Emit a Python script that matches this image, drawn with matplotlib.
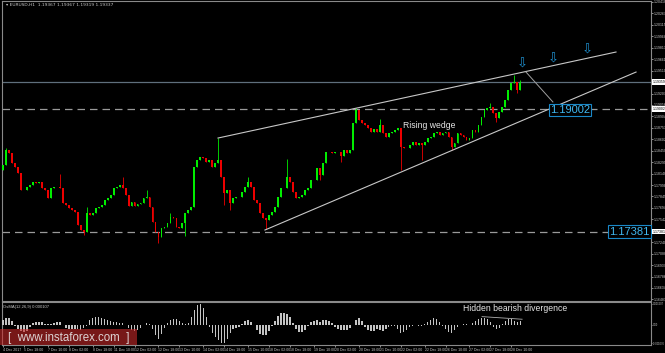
import matplotlib
matplotlib.use('Agg')
import matplotlib.pyplot as plt
import matplotlib.transforms as mtrans
from matplotlib.patches import Rectangle
import numpy as np

# ---------------- data ----------------
first_open = 1.18195
closes = [
    1.18261, 1.18460, 1.18420, 1.18288, 1.18235, 1.18155, 1.17930, 1.17930, 1.17970, 1.17996,
    1.18036, 1.18023, 1.18036, 1.17957, 1.17930, 1.17825, 1.17957, 1.17970, 1.17970, 1.17957,
    1.17759, 1.17732, 1.17692, 1.17666, 1.17639, 1.17467, 1.17401, 1.17375, 1.17626, 1.17600,
    1.17626, 1.17692, 1.17705, 1.17732, 1.17798, 1.17825, 1.17864, 1.17957, 1.17970, 1.17996,
    1.17957, 1.17864, 1.17719, 1.17772, 1.17719, 1.17745, 1.17759, 1.17825, 1.17838, 1.17705,
    1.17507, 1.17375, 1.17309, 1.17428, 1.17441, 1.17494, 1.17573, 1.17560, 1.17441, 1.17428,
    1.17494, 1.17626, 1.17666, 1.17705, 1.18235, 1.18327, 1.18367, 1.18354, 1.18301, 1.18327,
    1.18235, 1.18288, 1.18327, 1.18102, 1.17891, 1.17930, 1.17759, 1.17825, 1.17838, 1.17838,
    1.17904, 1.17970, 1.18036, 1.17970, 1.17798, 1.17759, 1.17626, 1.17560, 1.17533, 1.17600,
    1.17639, 1.17705, 1.17838, 1.17957, 1.17957, 1.18102, 1.18036, 1.17904, 1.17825, 1.17838,
    1.17864, 1.17930, 1.17957, 1.18063, 1.18063, 1.18221, 1.18129, 1.18288, 1.18433, 1.18433,
    1.18420, 1.18433, 1.18433, 1.18380, 1.18460, 1.18420, 1.18460, 1.18817, 1.18989, 1.18856,
    1.18817, 1.18790, 1.18751, 1.18698, 1.18737, 1.18698, 1.18790, 1.18684, 1.18632, 1.18684,
    1.18698, 1.18724, 1.18751, 1.18499, 1.18486, 1.18486, 1.18526, 1.18565, 1.18526, 1.18552,
    1.18526, 1.18565, 1.18618, 1.18632, 1.18684, 1.18698, 1.18658, 1.18684, 1.18698, 1.18632,
    1.18499, 1.18552, 1.18684, 1.18658, 1.18632, 1.18592, 1.18618, 1.18724, 1.18698, 1.18790,
    1.18896, 1.18989, 1.19015, 1.19028, 1.18949, 1.18883, 1.18962, 1.19028, 1.19121, 1.19253,
    1.19346, 1.19359, 1.19253, 1.19346,
]
spike_highs = {1: 1.18486, 19: 1.18142, 28: 1.17705, 40: 1.18102, 48: 1.17930, 56: 1.17626,
               72: 1.18618, 82: 1.18102, 95: 1.18340, 118: 1.19015, 126: 1.18870, 163: 1.19081,
               171: 1.19452, 173: 1.19386}
spike_lows = {27: 1.17335, 52: 1.17229, 61: 1.17322, 74: 1.17732, 76: 1.17666, 88: 1.17414,
              106: 1.18063, 113: 1.18301, 133: 1.18195, 140: 1.18327, 150: 1.18460, 165: 1.18830,
              172: 1.19214}

osma = [
    0.00029, 0.00040, 0.00040, 0.00023, -0.00006, -0.00023, -0.00035, -0.00040, -0.00035, -0.00012,
    0.00012, 0.00017, 0.00017, 0.00017, 0.00006, 0.00006, 0.00006, 0.00012, 0.00017, 0.00017,
    0.00002, -0.00017, -0.00023, -0.00023, -0.00023, -0.00023, -0.00029, -0.00017, -0.00006, 0.00029,
    0.00040, 0.00046, 0.00046, 0.00040, 0.00035, 0.00029, 0.00023, 0.00017, 0.00017, 0.00012,
    0.00012, 0.00002, -0.00017, -0.00029, -0.00035, -0.00029, -0.00017, -0.00002, 0.00012, 0.00006,
    -0.00023, -0.00058, -0.00081, -0.00052, -0.00017, 0.00012, 0.00029, 0.00035, 0.00035, 0.00023,
    0.00012, 0.00006, 0.00012, 0.00046, 0.00086, 0.00115, 0.00121, 0.00098, 0.00046, -0.00012,
    -0.00046, -0.00069, -0.00086, -0.00104, -0.00104, -0.00081, -0.00046, -0.00023, -0.00017, -0.00012,
    0.00006, 0.00023, 0.00029, 0.00017, -0.00002, -0.00029, -0.00052, -0.00058, -0.00058, -0.00035,
    -0.00006, 0.00023, 0.00052, 0.00069, 0.00069, 0.00063, 0.00046, 0.00012, -0.00023, -0.00040,
    -0.00040, -0.00029, -0.00006, 0.00017, 0.00023, 0.00029, 0.00017, 0.00029, 0.00029, 0.00023,
    0.00012, -0.00012, -0.00023, -0.00029, -0.00029, -0.00029, -0.00017, 0.00002, 0.00029, 0.00040,
    0.00023, -0.00012, -0.00029, -0.00035, -0.00035, -0.00023, -0.00029, -0.00035, -0.00023, -0.00012,
    -0.00006, -0.00006, -0.00023, -0.00046, -0.00040, -0.00029, -0.00012, -0.00006, -0.00002, -0.00006,
    -0.00006, 0.00006, 0.00017, 0.00029, 0.00040, 0.00035, 0.00017, -0.00006, -0.00023, -0.00040,
    -0.00046, -0.00029, -0.00012, 0.00002, 0.00006, 0.00006, 0.00002, 0.00012, 0.00023, 0.00035,
    0.00040, 0.00040, 0.00035, 0.00017, -0.00012, -0.00023, -0.00017, 0.00006, 0.00023, 0.00035,
    0.00035, 0.00023, 0.00017, 0.00023,
]

price_ticks = [1.20418, 1.20267, 1.20115, 1.19964, 1.19813, 1.19661, 1.19510, 1.19207, 1.19056,
               1.18904, 1.18753, 1.18602, 1.18450, 1.18299, 1.18148, 1.17996, 1.17845, 1.17694,
               1.17542, 1.17240, 1.17088, 1.16937, 1.16786, 1.16634, 1.16483]
osma_ticks = [0.00121, 0.0, -0.00104]
osma_tick_labels = ['0.001207', '0.00', '-0.001076']

date_pos = [0, 7, 15, 22, 30, 37, 44, 52, 59, 67, 74, 82, 89, 96, 104, 111, 119, 126, 133,
            141, 148, 156, 163, 170]
date_labels = ['4 Dec 2017', '5 Dec 18:00', '7 Dec 10:00', '8 Dec 02:00', '8 Dec 18:00',
               '11 Dec 10:00', '12 Dec 02:00', '12 Dec 18:00', '13 Dec 10:00', '14 Dec 02:00',
               '14 Dec 18:00', '15 Dec 10:00', '18 Dec 02:00', '18 Dec 18:00', '19 Dec 10:00',
               '20 Dec 02:00', '20 Dec 18:00', '21 Dec 10:00', '22 Dec 02:00', '22 Dec 18:00',
               '26 Dec 10:00', '27 Dec 02:00', '27 Dec 18:00', '28 Dec 10:00']

level_upper = 1.19002
level_lower = 1.17381
current_price = 1.19359
wedge_upper_x, wedge_upper_y = [71.9, 205.0], [1.18618, 1.19756]
wedge_lower_x, wedge_lower_y = [87.6, 211.7], [1.17401, 1.19491]
proj_x, proj_y = [174.9, 183.9], [1.19491, 1.19095]
arrow_x = [173.6, 183.9, 195.3]
arrow_y = [1.19591, 1.19657, 1.19776]
div_x, div_y = [160.2, 173.6], [0.00048, 0.00033]

# ---------------- figure ----------------
W, H = 665, 353
fig = plt.figure(figsize=(W / 100, H / 100), dpi=100, facecolor='black')
ax = fig.add_axes([2 / W, 52 / H, 649 / W, 300 / H], facecolor='black')
osc = fig.add_axes([2 / W, 8 / H, 649 / W, 43 / H], facecolor='black')

SMALL = dict(family='Liberation Sans')
xlim = (-0.33, 216.7)
n = len(closes)
x = np.arange(n)
c = np.array(closes)
o = np.array([first_open] + closes[:-1])
hi = np.maximum(o, c)
lo = np.minimum(o, c)
for k, v in spike_highs.items():
    hi[k] = v
for k, v in spike_lows.items():
    lo[k] = v
up = c >= o
cols = np.where(up, '#00ee00', '#ee0000')

ax.vlines(x, lo, hi, colors=cols, linewidth=0.6, zorder=3)
body_lo = np.minimum(o, c)
body_h = np.maximum(np.abs(c - o), 0.00005)
ax.bar(x, body_h, bottom=body_lo, width=0.62, color=cols, linewidth=0, zorder=4)

# levels
ax.axhline(level_upper, color='#9a9a9a', lw=0.9, ls=(0, (6, 4)), zorder=2)
ax.axhline(level_lower, color='#9a9a9a', lw=0.9, ls=(0, (6, 4)), zorder=2)
ax.axhline(current_price, color='#5f6f7c', lw=0.9, zorder=2)

# wedge lines
ax.plot(wedge_upper_x, wedge_upper_y, color='#c8c8c8', lw=0.8, zorder=5)
ax.plot(wedge_lower_x, wedge_lower_y, color='#c8c8c8', lw=0.8, zorder=5)
ax.plot(proj_x, proj_y, color='#a0a0a0', lw=0.7, zorder=5)

for ax_, ay_ in zip(arrow_x, arrow_y):
    ax.text(ax_, ay_, '\u21e9', color='#1e90d0', fontsize=9.5, ha='center', va='center',
            family='DejaVu Sans', zorder=6)

ax.text(189.6, 1.18989, '1.19002', color='#40b8f0', fontsize=8, family='Liberation Sans',
        ha='center', va='center', zorder=7,
        bbox=dict(boxstyle='square,pad=0.12', fc='black', ec='#1a88c8', lw=0.8))
ax.text(209.5, 1.17381, '1.17381', color='#40b8f0', fontsize=8, family='Liberation Sans',
        ha='center', va='center', zorder=7,
        bbox=dict(boxstyle='square,pad=0.12', fc='black', ec='#1a88c8', lw=0.8))

ax.text(133.8, 1.18790, 'Rising wedge', color='#e6e6e6', fontsize=6.2, family='Liberation Sans',
        ha='left', va='center', zorder=7)

ax.text(0.006, 0.993, '\u25be EURUSD,H1  1.19367 1.19367 1.19319 1.19337', transform=ax.transAxes,
        color='#c8c8c8', fontsize=3.2, ha='left', va='top', family='DejaVu Sans')

ax.set_xlim(*xlim)
ax.set_ylim(1.16462, 1.20431)
ax.set_xticks([])
ax.yaxis.tick_right()
ax.set_yticks(price_ticks)
ax.set_yticklabels([f'{p:.5f}' for p in price_ticks], **SMALL)
ax.tick_params(axis='y', colors='#c8c8c8', labelsize=2.5, length=1.2, width=0.5, pad=0.5)
for s in ax.spines.values():
    s.set_color('#8a8a8a')
    s.set_linewidth(0.8)

# axis labels for the levels (white boxes)
tr = mtrans.blended_transform_factory(ax.transAxes, ax.transData)
for lv in [current_price, level_upper, level_lower]:
    ax.text(1.002, lv, f'{lv:.5f}', transform=tr, fontsize=2.5, color='black', ha='left',
            va='center', clip_on=False, zorder=8, family='Liberation Sans',
            bbox=dict(boxstyle='square,pad=0.2', fc='white', ec='none'))

# ---------------- oscillator ----------------
osc.bar(x, osma, width=0.5, color='#c4c4c4', linewidth=0, zorder=3)
osc.plot(div_x, div_y, color='#b0b0b0', lw=0.6, zorder=4)
osc.text(153.8, 0.00095, 'Hidden bearish divergence', color='#e6e6e6', fontsize=6.2,
         family='Liberation Sans', ha='left', va='center', zorder=5)
osc.text(0.002, 0.93, 'OsMA(12,26,9) 0.000107', transform=osc.transAxes, color='#c8c8c8',
         fontsize=3.0, ha='left', va='top', family='Liberation Sans')
osc.set_xlim(*xlim)
osc.set_ylim(-0.00115, 0.00132)
osc.yaxis.tick_right()
osc.set_yticks(osma_ticks)
osc.set_yticklabels(osma_tick_labels, **SMALL)
osc.tick_params(axis='y', colors='#c8c8c8', labelsize=1.9, length=1.0, width=0.5, pad=0.3)
osc.set_xticks(date_pos)
osc.set_xticklabels(date_labels, ha='left', **SMALL)
osc.tick_params(axis='x', colors='#c8c8c8', labelsize=2.5, length=1.5, width=0.5, pad=0.6)
for s in osc.spines.values():
    s.set_color('#8a8a8a')
    s.set_linewidth(0.8)

# watermark
fig.patches.append(Rectangle((0, 8 / H), 137 / W, 16 / H, transform=fig.transFigure,
                             fc=(0.78, 0.16, 0.16, 0.6), ec='none', zorder=10))
fig.text(69 / W, 14.5 / H, '[  www.instaforex.com  ]', color='#e8e8e8', fontsize=8.3,
         family='Liberation Sans', ha='center', va='center', zorder=11, alpha=0.9)

fig.savefig('out.png', dpi=100, facecolor='black')
